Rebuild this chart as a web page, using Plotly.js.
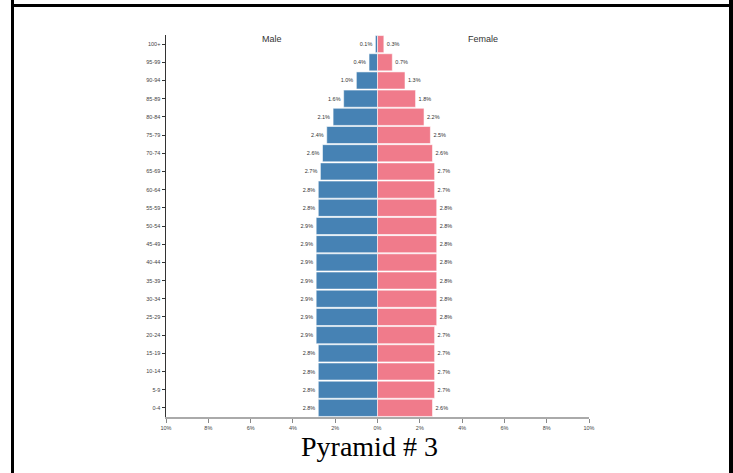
<!DOCTYPE html>
<html>
<head>
<meta charset="utf-8">
<script src="https://cdn.plot.ly/plotly-3.0.1.min.js"></script>
<style>
  html, body { margin: 0; padding: 0; background: #fff; }
  #wrap { position: relative; width: 733px; height: 473px; overflow: hidden; }
  #chart { position: absolute; left: 0; top: 0; width: 733px; height: 473px; }
  .bl { position: absolute; background: #000; }
</style>
</head>
<body>
<div id="wrap">
  <div id="chart"></div>
  <div class="bl" style="left:11px; top:0; width:3px; height:473px;"></div>
  <div class="bl" style="left:729px; top:0; width:4px; height:473px;"></div>
  <div class="bl" style="left:14px; top:4px; width:715px; height:3px;"></div>
</div>
<script>
// Age groups, bottom to top
const ageGroups = ["0-4","5-9","10-14","15-19","20-24","25-29","30-34","35-39","40-44","45-49",
  "50-54","55-59","60-64","65-69","70-74","75-79","80-84","85-89","90-94","95-99","100+"];
// Percent of population
const maleValues = [2.8,2.8,2.8,2.8,2.9,2.9,2.9,2.9,2.9,2.9,2.9,2.8,2.8,2.7,2.6,2.4,2.1,1.6,1.0,0.4,0.1];
const femaleValues = [2.6,2.7,2.7,2.7,2.7,2.8,2.8,2.8,2.8,2.8,2.8,2.8,2.7,2.7,2.6,2.5,2.2,1.8,1.3,0.7,0.3];
const tickValues = [-10,-8,-6,-4,-2,0,2,4,6,8,10];
const tickLabels = ["10%","8%","6%","4%","2%","0%","2%","4%","6%","8%","10%"];
const titleText = "Pyramid # 3";

const labelFont = {family: "Liberation Sans, Arial, sans-serif", size: 5.5, color: "#333"};

const male = {
  type: "bar", orientation: "h", name: "Male",
  y: ageGroups, x: maleValues.map(v => -v),
  text: maleValues.map(v => v.toFixed(1) + "%"),
  textposition: "outside", textfont: labelFont, constraintext: "none", cliponaxis: false,
  marker: {color: "#4682B4", line: {color: "rgba(255,255,255,0.55)", width: 1}},
  hoverinfo: "skip"
};
const female = {
  type: "bar", orientation: "h", name: "Female",
  y: ageGroups, x: femaleValues,
  text: femaleValues.map(v => v.toFixed(1) + "%"),
  textposition: "outside", textfont: labelFont, constraintext: "none", cliponaxis: false,
  marker: {color: "#F07B8B", line: {color: "rgba(255,255,255,0.55)", width: 1}},
  hoverinfo: "skip"
};

const layout = {
  width: 733, height: 473, autosize: false,
  margin: {l: 166, r: 143.5, t: 35, b: 56, pad: 0},
  paper_bgcolor: "#fff", plot_bgcolor: "#fff",
  barmode: "overlay", bargap: 0.06,
  showlegend: false,
  font: {family: "Liberation Sans, Arial, sans-serif", color: "#333"},
  xaxis: {
    range: [-10, 10], tickvals: tickValues, ticktext: tickLabels,
    showgrid: false, zeroline: false, showline: true, linecolor: "#aaa", linewidth: 2,
    ticks: "outside", ticklen: 4, tickcolor: "#888", tickwidth: 1,
    tickfont: {size: 5.5, color: "#444"}, fixedrange: true
  },
  yaxis: {
    type: "category", categoryorder: "array", categoryarray: ageGroups,
    range: [-0.5, 20.5],
    showgrid: false, zeroline: false, showline: true, linecolor: "#333", linewidth: 1.5,
    ticks: "outside", ticklen: 3, tickcolor: "#333", tickwidth: 1,
    tickfont: {size: 5.5, color: "#444"}, fixedrange: true
  },
  annotations: [
    {text: "Male", xref: "x", yref: "paper", x: -5, y: 0.99, yanchor: "middle", showarrow: false,
     font: {size: 9, color: "#333"}},
    {text: "Female", xref: "x", yref: "paper", x: 5, y: 0.99, yanchor: "middle", showarrow: false,
     font: {size: 9, color: "#333"}},
    {text: titleText, xref: "paper", yref: "paper", x: 0.48, xanchor: "center",
     y: -0.078, yanchor: "middle", showarrow: false,
     font: {family: "Liberation Serif, Times New Roman, serif", size: 28, color: "#000"}}
  ]
};

Plotly.newPlot("chart", [male, female], layout, {displayModeBar: false, staticPlot: true});
</script>
</body>
</html>
